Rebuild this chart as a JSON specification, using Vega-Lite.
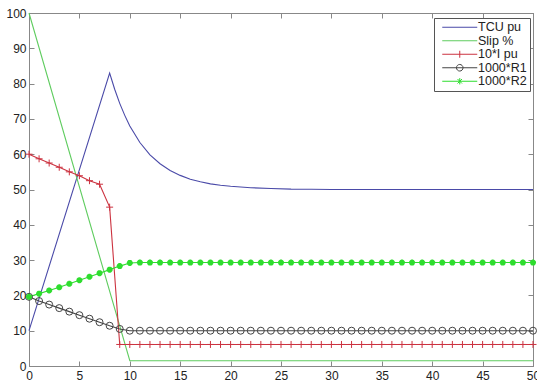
{
  "$schema": "https://vega.github.io/schema/vega-lite/v6.json",
  "width": 504,
  "height": 353,
  "autosize": {"type": "none"},
  "padding": {"left": 29, "top": 13, "right": 4, "bottom": 16},
  "background": "white",
  "config": {
    "view": {"stroke": "#888", "strokeWidth": 1},
    "axis": {
      "grid": false, "title": null, "domainColor": "#888", "domainWidth": 1,
      "tickColor": "#888", "tickSize": -5, "tickWidth": 1,
      "labelFont": "Liberation Sans", "labelFontSize": 12, "labelColor": "#222",
      "labelFlush": false, "labelOverlap": false
    },
    "legend": {
      "orient": "none", "legendX": 405, "legendY": 5, "title": null,
      "padding": 3, "symbolOffset": 16.5, "labelOffset": 12, "symbolSize": 49,
      "symbolStrokeWidth": 1, "rowPadding": 0.5, "labelFontSize": 12.5,
      "labelFont": "Liberation Sans", "labelColor": "#222",
      "strokeColor": "#555", "fillColor": "white", "cornerRadius": 0
    }
  },
  "data": {"values": [
    {"s":"TCU pu","x":0,"v":10},{"s":"TCU pu","x":8,"v":83},{"s":"TCU pu","x":8.5,"v":78.4},{"s":"TCU pu","x":9,"v":74.4},{"s":"TCU pu","x":9.5,"v":71.0},{"s":"TCU pu","x":10,"v":68.0},{"s":"TCU pu","x":11,"v":63.3},{"s":"TCU pu","x":12,"v":59.8},{"s":"TCU pu","x":13,"v":57.3},{"s":"TCU pu","x":14,"v":55.4},{"s":"TCU pu","x":15,"v":54.0},{"s":"TCU pu","x":16,"v":52.9},{"s":"TCU pu","x":17,"v":52.2},{"s":"TCU pu","x":18,"v":51.6},{"s":"TCU pu","x":19,"v":51.2},{"s":"TCU pu","x":20,"v":50.9},{"s":"TCU pu","x":22,"v":50.5},{"s":"TCU pu","x":24,"v":50.3},{"s":"TCU pu","x":26,"v":50.1},{"s":"TCU pu","x":28,"v":50.05},{"s":"TCU pu","x":30,"v":50.0},{"s":"TCU pu","x":50,"v":50.0},
    {"s":"Slip %","x":0,"v":100},{"s":"Slip %","x":10,"v":1.5},{"s":"Slip %","x":50,"v":1.5},
    {"s":"10*I pu","x":0,"v":60},{"s":"10*I pu","x":1,"v":58.7},{"s":"10*I pu","x":2,"v":57.5},{"s":"10*I pu","x":3,"v":56.3},{"s":"10*I pu","x":4,"v":55.0},{"s":"10*I pu","x":5,"v":53.9},{"s":"10*I pu","x":6,"v":52.5},{"s":"10*I pu","x":7,"v":51.5},{"s":"10*I pu","x":8,"v":45.0},
    {"s":"10*I pu","x":9,"v":6.1},{"s":"10*I pu","x":10,"v":6.1},{"s":"10*I pu","x":11,"v":6.1},{"s":"10*I pu","x":12,"v":6.1},{"s":"10*I pu","x":13,"v":6.1},{"s":"10*I pu","x":14,"v":6.1},{"s":"10*I pu","x":15,"v":6.1},{"s":"10*I pu","x":16,"v":6.1},{"s":"10*I pu","x":17,"v":6.1},{"s":"10*I pu","x":18,"v":6.1},{"s":"10*I pu","x":19,"v":6.1},{"s":"10*I pu","x":20,"v":6.1},{"s":"10*I pu","x":21,"v":6.1},{"s":"10*I pu","x":22,"v":6.1},{"s":"10*I pu","x":23,"v":6.1},{"s":"10*I pu","x":24,"v":6.1},{"s":"10*I pu","x":25,"v":6.1},{"s":"10*I pu","x":26,"v":6.1},{"s":"10*I pu","x":27,"v":6.1},{"s":"10*I pu","x":28,"v":6.1},{"s":"10*I pu","x":29,"v":6.1},{"s":"10*I pu","x":30,"v":6.1},{"s":"10*I pu","x":31,"v":6.1},{"s":"10*I pu","x":32,"v":6.1},{"s":"10*I pu","x":33,"v":6.1},{"s":"10*I pu","x":34,"v":6.1},{"s":"10*I pu","x":35,"v":6.1},{"s":"10*I pu","x":36,"v":6.1},{"s":"10*I pu","x":37,"v":6.1},{"s":"10*I pu","x":38,"v":6.1},{"s":"10*I pu","x":39,"v":6.1},{"s":"10*I pu","x":40,"v":6.1},{"s":"10*I pu","x":41,"v":6.1},{"s":"10*I pu","x":42,"v":6.1},{"s":"10*I pu","x":43,"v":6.1},{"s":"10*I pu","x":44,"v":6.1},{"s":"10*I pu","x":45,"v":6.1},{"s":"10*I pu","x":46,"v":6.1},{"s":"10*I pu","x":47,"v":6.1},{"s":"10*I pu","x":48,"v":6.1},{"s":"10*I pu","x":49,"v":6.1},{"s":"10*I pu","x":50,"v":6.1},
    {"s":"1000*R1","x":0,"v":19.6},{"s":"1000*R1","x":1,"v":18.4},{"s":"1000*R1","x":2,"v":17.4},{"s":"1000*R1","x":3,"v":16.4},{"s":"1000*R1","x":4,"v":15.4},{"s":"1000*R1","x":5,"v":14.4},{"s":"1000*R1","x":6,"v":13.4},{"s":"1000*R1","x":7,"v":12.4},{"s":"1000*R1","x":8,"v":11.4},{"s":"1000*R1","x":9,"v":10.5},{"s":"1000*R1","x":10,"v":10.0},
    {"s":"1000*R1","x":11,"v":10},{"s":"1000*R1","x":12,"v":10},{"s":"1000*R1","x":13,"v":10},{"s":"1000*R1","x":14,"v":10},{"s":"1000*R1","x":15,"v":10},{"s":"1000*R1","x":16,"v":10},{"s":"1000*R1","x":17,"v":10},{"s":"1000*R1","x":18,"v":10},{"s":"1000*R1","x":19,"v":10},{"s":"1000*R1","x":20,"v":10},{"s":"1000*R1","x":21,"v":10},{"s":"1000*R1","x":22,"v":10},{"s":"1000*R1","x":23,"v":10},{"s":"1000*R1","x":24,"v":10},{"s":"1000*R1","x":25,"v":10},{"s":"1000*R1","x":26,"v":10},{"s":"1000*R1","x":27,"v":10},{"s":"1000*R1","x":28,"v":10},{"s":"1000*R1","x":29,"v":10},{"s":"1000*R1","x":30,"v":10},{"s":"1000*R1","x":31,"v":10},{"s":"1000*R1","x":32,"v":10},{"s":"1000*R1","x":33,"v":10},{"s":"1000*R1","x":34,"v":10},{"s":"1000*R1","x":35,"v":10},{"s":"1000*R1","x":36,"v":10},{"s":"1000*R1","x":37,"v":10},{"s":"1000*R1","x":38,"v":10},{"s":"1000*R1","x":39,"v":10},{"s":"1000*R1","x":40,"v":10},{"s":"1000*R1","x":41,"v":10},{"s":"1000*R1","x":42,"v":10},{"s":"1000*R1","x":43,"v":10},{"s":"1000*R1","x":44,"v":10},{"s":"1000*R1","x":45,"v":10},{"s":"1000*R1","x":46,"v":10},{"s":"1000*R1","x":47,"v":10},{"s":"1000*R1","x":48,"v":10},{"s":"1000*R1","x":49,"v":10},{"s":"1000*R1","x":50,"v":10},
    {"s":"1000*R2","x":0,"v":19.6},{"s":"1000*R2","x":1,"v":20.5},{"s":"1000*R2","x":2,"v":21.4},{"s":"1000*R2","x":3,"v":22.3},{"s":"1000*R2","x":4,"v":23.3},{"s":"1000*R2","x":5,"v":24.3},{"s":"1000*R2","x":6,"v":25.3},{"s":"1000*R2","x":7,"v":26.3},{"s":"1000*R2","x":8,"v":27.3},{"s":"1000*R2","x":9,"v":28.3},{"s":"1000*R2","x":10,"v":29.2},
    {"s":"1000*R2","x":11,"v":29.3},{"s":"1000*R2","x":12,"v":29.3},{"s":"1000*R2","x":13,"v":29.3},{"s":"1000*R2","x":14,"v":29.3},{"s":"1000*R2","x":15,"v":29.3},{"s":"1000*R2","x":16,"v":29.3},{"s":"1000*R2","x":17,"v":29.3},{"s":"1000*R2","x":18,"v":29.3},{"s":"1000*R2","x":19,"v":29.3},{"s":"1000*R2","x":20,"v":29.3},{"s":"1000*R2","x":21,"v":29.3},{"s":"1000*R2","x":22,"v":29.3},{"s":"1000*R2","x":23,"v":29.3},{"s":"1000*R2","x":24,"v":29.3},{"s":"1000*R2","x":25,"v":29.3},{"s":"1000*R2","x":26,"v":29.3},{"s":"1000*R2","x":27,"v":29.3},{"s":"1000*R2","x":28,"v":29.3},{"s":"1000*R2","x":29,"v":29.3},{"s":"1000*R2","x":30,"v":29.3},{"s":"1000*R2","x":31,"v":29.3},{"s":"1000*R2","x":32,"v":29.3},{"s":"1000*R2","x":33,"v":29.3},{"s":"1000*R2","x":34,"v":29.3},{"s":"1000*R2","x":35,"v":29.3},{"s":"1000*R2","x":36,"v":29.3},{"s":"1000*R2","x":37,"v":29.3},{"s":"1000*R2","x":38,"v":29.3},{"s":"1000*R2","x":39,"v":29.3},{"s":"1000*R2","x":40,"v":29.3},{"s":"1000*R2","x":41,"v":29.3},{"s":"1000*R2","x":42,"v":29.3},{"s":"1000*R2","x":43,"v":29.3},{"s":"1000*R2","x":44,"v":29.3},{"s":"1000*R2","x":45,"v":29.3},{"s":"1000*R2","x":46,"v":29.3},{"s":"1000*R2","x":47,"v":29.3},{"s":"1000*R2","x":48,"v":29.3},{"s":"1000*R2","x":49,"v":29.3},{"s":"1000*R2","x":50,"v":29.3}
  ]},
  "encoding": {
    "x": {"field": "x", "type": "quantitative", "axis": null, "scale": {"domain": [0, 50], "nice": false, "zero": false}},
    "y": {"field": "v", "type": "quantitative", "axis": null, "scale": {"domain": [0, 100], "nice": false}},
    "color": {"field": "s", "type": "nominal",
      "scale": {"domain": ["TCU pu", "Slip %", "10*I pu", "1000*R1", "1000*R2"],
                "range": ["#4a4aa8", "#5fcc5f", "#cc3340", "#444444", "#2edd2e"]}}
  },
  "resolve": {"axis": {"x": "independent", "y": "independent"}},
  "layer": [
    {
      "mark": {"type": "line", "strokeWidth": 1.1, "clip": false},
      "encoding": {
        "x": {"field": "x", "type": "quantitative", "axis": {"orient": "bottom", "values": [0,5,10,15,20,25,30,35,40,45,50], "labelPadding": 9}},
        "y": {"field": "v", "type": "quantitative", "axis": {"orient": "left", "values": [0,10,20,30,40,50,60,70,80,90,100], "labelPadding": 8}}
      }
    },
    {
      "transform": [{"filter": "datum.s == '10*I pu'"}],
      "mark": {"type": "point", "shape": "M-1,0L1,0M0,-1L0,1", "size": 49, "filled": false, "strokeWidth": 1, "opacity": 1}
    },
    {
      "transform": [{"filter": "datum.s == '1000*R1'"}],
      "mark": {"type": "point", "shape": "circle", "size": 49, "filled": false, "strokeWidth": 1, "opacity": 1}
    },
    {
      "transform": [{"filter": "datum.s == '1000*R2'"}],
      "mark": {"type": "point", "shape": "M-1,0L1,0M0,-1L0,1M-0.7,-0.7L0.7,0.7M-0.7,0.7L0.7,-0.7", "size": 36, "filled": false, "strokeWidth": 2, "opacity": 1}
    },
    {
      "transform": [{"filter": "datum.x < -1"}],
      "mark": {"type": "point", "filled": false, "strokeWidth": 1, "opacity": 1},
      "encoding": {
        "x": {"field": "x", "type": "quantitative", "axis": {"orient": "top", "values": [0,5,10,15,20,25,30,35,40,45,50], "labels": false}},
        "y": {"field": "v", "type": "quantitative", "axis": {"orient": "right", "values": [0,10,20,30,40,50,60,70,80,90,100], "labels": false}},
        "shape": {"field": "s", "type": "nominal",
          "scale": {"domain": ["TCU pu", "Slip %", "10*I pu", "1000*R1", "1000*R2"],
                    "range": ["M-5,0L5,0", "M-5,0L5,0", "M-5,0L5,0M0,-1L0,1", "M-5,0L5,0M-0.94,0A0.94,0.94 0 1,0 0.94,0A0.94,0.94 0 1,0 -0.94,0", "M-5,0L5,0M0,-0.9L0,0.9M-0.64,-0.64L0.64,0.64M-0.64,0.64L0.64,-0.64"]}}
      }
    }
  ]
}
